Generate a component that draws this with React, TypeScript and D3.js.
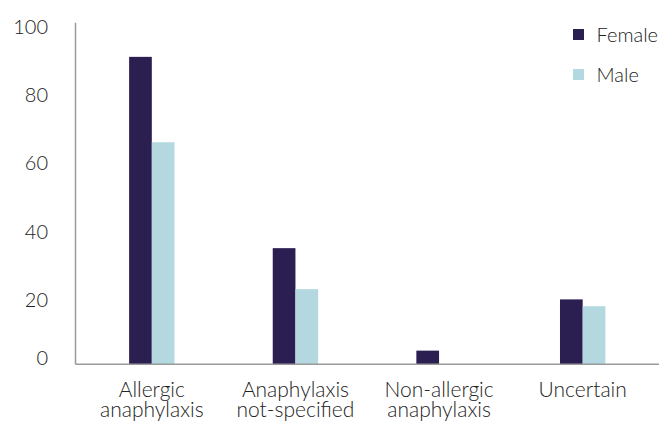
import React from 'react'
import * as d3 from 'd3'

const categories = [
  ['Allergic', 'anaphylaxis'],
  ['Anaphylaxis', 'not-specified'],
  ['Non-allergic', 'anaphylaxis'],
  ['Uncertain'],
]
const seriesNames = ['Female', 'Male']
const female = [90, 34, 4, 19]
const male = [65, 22, 0, 17]
const yTicks = [0, 20, 40, 60, 80, 100]

const colors = ['#2b1f52', '#b3d8e0']
const font = 'Lato, "Open Sans", sans-serif'

const W = 659
const H = 425

const App = () => {
  const keys = categories.map((c) => c.join(' '))
  const y = d3.scaleLinear().domain([0, 100]).range([364.3, 22.7])
  const x0 = d3.scaleBand().domain(keys).range([80, 654.5])
  const groupW = 45.4
  const x1 = d3.scaleBand().domain(seriesNames).range([0, groupW])
  const series = [female, male]

  return (
    <div style={{ position: 'fixed', left: 0, top: 0 }}>
      <svg width={W} height={H} style={{ display: 'block', background: '#fff' }}>
        {/* bars */}
        {keys.map((k, i) => {
          const gx = x0(k) + (x0.bandwidth() - groupW) / 2
          return (
            <g key={k} transform={`translate(${gx},0)`}>
              {seriesNames.map((s, j) =>
                series[j][i] > 0 ? (
                  <rect
                    key={s}
                    x={x1(s)}
                    y={y(series[j][i])}
                    width={x1.bandwidth()}
                    height={y(0) - y(series[j][i])}
                    fill={colors[j]}
                  />
                ) : null
              )}
            </g>
          )
        })}

        {/* axes */}
        <line x1={75.5} x2={75.5} y1={y(100)} y2={y(0)} stroke="#9a9a9a" strokeWidth={1.5} />
        <line x1={75.5} x2={659} y1={y(0)} y2={y(0)} stroke="#9a9a9a" strokeWidth={1.5} />

        {yTicks.map((t) => (
          <text
            key={t}
            x={48}
            y={y(t) + (t === 0 ? -7 : 3)}
            textAnchor="end"
            dominantBaseline="central"
            fontFamily={font}
            fontWeight={300}
            fontSize={20}
            fill="#222"
          >
            {t}
          </text>
        ))}

        {categories.map((lines, i) => (
          <text
            key={keys[i]}
            x={x0(keys[i]) + x0.bandwidth() / 2}
            y={397}
            textAnchor="middle"
            fontFamily={font}
            fontWeight={300}
            fontSize={21}
            fill="#222"
          >
            {lines.map((l, li) => (
              <tspan key={li} x={x0(keys[i]) + x0.bandwidth() / 2} dy={li === 0 ? 0 : 20}>
                {l}
              </tspan>
            ))}
          </text>
        ))}

        {/* legend */}
        {seriesNames.map((s, j) => (
          <g key={s} transform={`translate(573,${29 + j * 40})`}>
            <rect width={11} height={11} fill={colors[j]} />
            <text x={23.5} y={12.5} fontFamily={font} fontWeight={300} fontSize={20} fill="#222">
              {s}
            </text>
          </g>
        ))}
      </svg>
    </div>
  )
}

export default App
